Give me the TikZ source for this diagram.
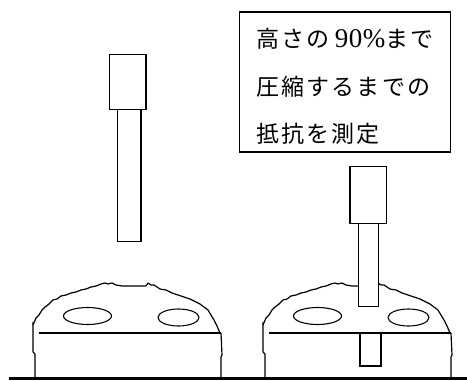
\documentclass[tikz,border=0pt]{standalone}
\usepackage{fontspec}
\newfontfamily\jpfont[LetterSpace=9]{Noto Sans CJK JP}
\newfontfamily\numfont[LetterSpace=2]{Liberation Serif}
\tikzset{
  solid part/.style={draw=black, line width=1.5pt, fill=white},
  hole/.style={draw=black, line width=1.1pt},
  crust/.style={draw=black, line width=1.2pt, line join=round},
  ground/.style={draw=black, line width=3pt},
  note/.style={draw=black, line width=1.3pt, fill=white},
  noteline/.style={anchor=base west, inner sep=0pt, font=\fontsize{23}{23}\selectfont},
  dome/.pic={
    % rough rounded top of the sample
    \draw[crust] (33,325) -- (36,318) -- (39,315) -- (42,310) -- (45,307)
      -- (49,304) -- (53,300) -- (57,299) -- (61,296) -- (66,295) -- (71,293)
      -- (76,292) -- (81,290) -- (86,289) -- (91,287) -- (96,286) -- (101,284)
      -- (105,283) -- (108,284) -- (112,283) -- (116,285) -- (122,286)
      -- (130,286) -- (140,286) -- (146,286) -- (148,283) -- (151,285)
      -- (154,285) -- (157,287) -- (160,289) -- (166,290) -- (172,293)
      -- (178,295) -- (184,297) -- (190,299) -- (196,302) -- (200,304)
      -- (204,307) -- (208,310) -- (211,315) -- (214,320) -- (217,326)
      -- (220,333);
    % side walls
    \draw[crust] (33,322) -- (33,352) -- (35,354) -- (35,378);
    \draw[crust] (221,333) -- (222,355) -- (221,357) -- (221,378);
    % line between top and base
    \draw[crust] (39,333) -- (221,333);
    % the two holes
    \draw[hole] (87.5,316) ellipse [x radius=24, y radius=8.5];
    \draw[hole] (178.5,317.5) ellipse [x radius=20.5, y radius=8.5];
  }
}
\begin{document}
\begin{tikzpicture}[x=1pt, y=-1pt]
\useasboundingbox (0,0) rectangle (467,381);

% the two samples
\pic at (0,0) {dome};
\pic at (230,0) {dome};

% plunger above the first sample
\draw[solid part] (117.7,109.3) rectangle (141,241.7);
\draw[solid part] (109.3,54.3) rectangle (146,109.3);

% plunger pressed into the second sample
\draw[solid part] (358.3,223.3) rectangle (378.3,306.7);
\draw[solid part] (350,166.7) rectangle (386.7,223.3);
\draw[solid part] (360,333.3) rectangle (381,366);

% base plate
\draw[ground] (9,378.5) -- (467,378.5);

% note
\draw[note] (239.3,12) rectangle (450.5,152);
\node[noteline] (l1) at (256.5,47.5) {\jpfont 高さの\hspace{5pt}{\numfont\fontsize{27}{27}\selectfont 90\%}まで};
\node[noteline] (l2) at (256.5,95.5) {\jpfont 圧縮するまでの};
\node[noteline] (l3) at (256.5,142.5) {\jpfont 抵抗を測定};
\end{tikzpicture}
\end{document}
